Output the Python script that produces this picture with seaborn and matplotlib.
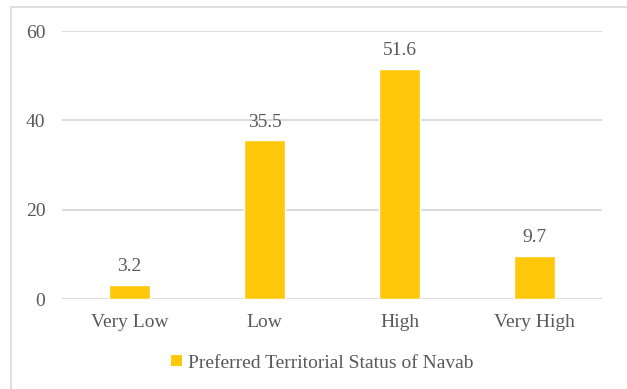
import matplotlib
matplotlib.use("Agg")
import matplotlib.pyplot as plt
from matplotlib.patches import Rectangle, Patch
import seaborn as sns
import pandas as pd

categories = ["Very Low", "Low", "High", "Very High"]
values = [3.2, 35.5, 51.6, 9.7]
series_name = "Preferred Territorial Status of Navab"
y_ticks = [0, 20, 40, 60]

bar_color = "#FFC80A"
text_color = "#595959"
grid_color = "#D9D9D9"

sns.set_theme(style="white")
plt.rcParams["font.family"] = ["Liberation Serif", "DejaVu Serif"]

W, H = 627, 389
fig = plt.figure(figsize=(W / 100, H / 100), dpi=100)
fig.patch.set_facecolor("white")

# outer chart frame
fig.add_artist(Rectangle((11 / W, 1 - 7 / H - 2), 2, 2, transform=fig.transFigure,
                         fill=False, edgecolor=grid_color, linewidth=1.2))

ax = fig.add_axes([62 / W, 1 - 299 / H, 540 / W, 268 / H])
df = pd.DataFrame({"category": categories, "value": values})
sns.barplot(data=df, x="category", y="value", color=bar_color, width=0.31,
            saturation=1, ax=ax, zorder=3)

ax.set_ylim(0, 60)
ax.set_xlim(-0.5, 3.5)
ax.set_yticks(y_ticks)
ax.set_xlabel("")
ax.set_ylabel("")
for s in ax.spines.values():
    s.set_visible(False)
for t in y_ticks:
    ax.axhline(t, color=grid_color, linewidth=1.3, zorder=1)
ax.tick_params(axis="both", length=0, labelsize=14, labelcolor=text_color)
ax.tick_params(axis="y", pad=12)
ax.tick_params(axis="x", pad=11)

for i, v in enumerate(values):
    ax.annotate(f"{v}", (i, v), xytext=(0, 7), textcoords="offset points",
                ha="center", va="bottom", fontsize=14, color=text_color)

fig.legend(handles=[Patch(facecolor=bar_color, edgecolor="none", label=series_name)],
           loc="center", bbox_to_anchor=(322 / W, 1 - 363 / H), frameon=False,
           fontsize=14, labelcolor=text_color, handlelength=0.55, handleheight=0.55,
           handletextpad=0.3)

fig.savefig("out.png", dpi=100)
